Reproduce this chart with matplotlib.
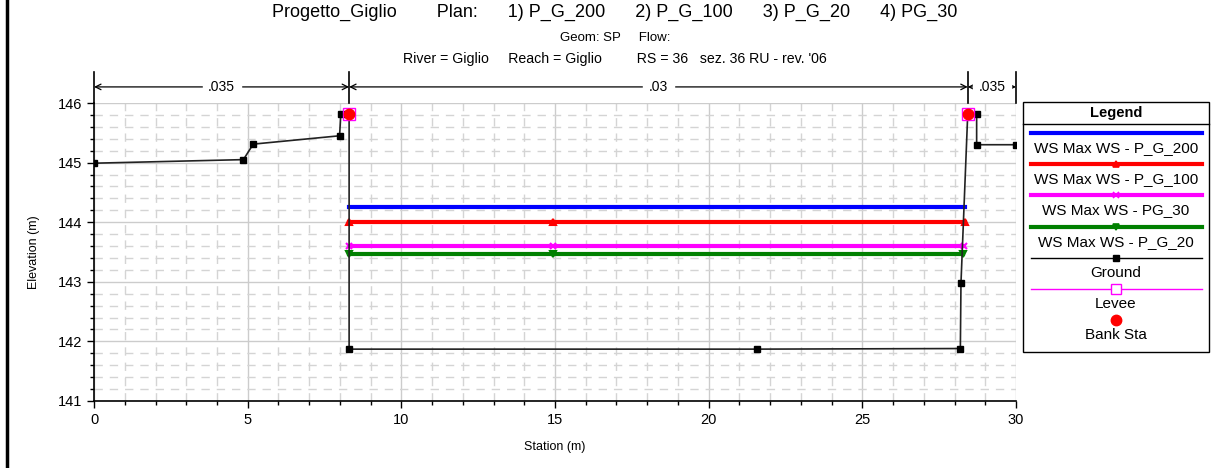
import matplotlib.pyplot as plt
from matplotlib.ticker import MultipleLocator
from matplotlib.lines import Line2D
from matplotlib.patches import Rectangle

plt.rcParams['font.family'] = ['Liberation Sans', 'DejaVu Sans']

# Ground profile
ground_x = [0.0, 4.86, 5.18, 7.99, 8.03, 8.3, 8.3, 21.57, 28.19, 28.21, 28.43, 28.72, 28.72, 30.0]
ground_y = [144.99, 145.05, 145.31, 145.45, 145.82, 145.82, 141.87, 141.87, 141.88, 142.98, 145.82, 145.82, 145.30, 145.30]
ground_mark_x = [0.0, 4.86, 5.18, 7.99, 8.03, 8.3, 21.57, 28.19, 28.21, 28.72, 28.72, 30.0]
ground_mark_y = [144.99, 145.05, 145.31, 145.45, 145.82, 141.87, 141.87, 141.88, 142.98, 145.82, 145.30, 145.30]

# Water surfaces
ws_names = ['WS Max WS - P_G_200', 'WS Max WS - P_G_100', 'WS Max WS - PG_30', 'WS Max WS - P_G_20']
ws_elev = [144.26, 144.00, 143.60, 143.47]
ws_left = [8.3, 8.3, 8.3, 8.3]
ws_mid = [14.95, 14.95, 14.95, 14.95]
ws_right = [28.35, 28.33, 28.30, 28.29]
ws_colors = ['#0000ff', '#ff0000', '#ff00ff', '#008000']
ws_markers = ['', '^', 'x', 'v']

# Bank stations / levees
bank_x = [8.3, 28.43]
bank_y = [145.82, 145.82]

# Manning's n
n_breaks = [0, 8.3, 28.43, 30]
n_values = ['.035', '.03', '.035']

fig = plt.figure(figsize=(12.15, 4.68), dpi=100)
ax = fig.add_axes([0.0774, 0.1432, 0.7588, 0.6367])

for name, y, xl, xm, xr, c, m in zip(ws_names, ws_elev, ws_left, ws_mid, ws_right, ws_colors, ws_markers):
    ax.plot([xl, xm, xr], [y, y, y], color=c, lw=3.0, marker=m if m else None,
            markersize=5, mew=1.5, zorder=4)

ax.plot(ground_x, ground_y, color='#222222', lw=1.2, zorder=5)
ax.plot(ground_mark_x, ground_mark_y, ls='none', marker='s', color='black', markersize=5, zorder=6)
ax.plot(bank_x, bank_y, ls='none', marker='s', markersize=8, mfc='none', mec='#ff00ff', mew=1, zorder=7)
ax.plot(bank_x, bank_y, ls='none', marker='o', markersize=7.5, color='#ff0000', zorder=8)

ax.set_xlim(0, 30)
ax.set_ylim(141, 146)
ax.xaxis.set_major_locator(MultipleLocator(5))
ax.xaxis.set_minor_locator(MultipleLocator(1))
ax.yaxis.set_major_locator(MultipleLocator(1))
ax.yaxis.set_minor_locator(MultipleLocator(0.2))
ax.grid(which='major', color='#cccccc', lw=1, zorder=0)
ax.grid(which='minor', color='#d4d4d4', lw=1, ls=(0, (6, 5)), zorder=0)
for s in ['top', 'right']:
    ax.spines[s].set_visible(False)
for s in ['left', 'bottom']:
    ax.spines[s].set_linewidth(1.2)
ax.tick_params(which='major', length=5, width=1, labelsize=10.5, direction='out')
ax.tick_params(which='minor', length=3, width=1, direction='out')
ax.set_xlabel('Station (m)', fontsize=9, labelpad=10)
ax.set_ylabel('Elevation (m)', fontsize=9, labelpad=13)

# Manning's n annotation above plot
ytop = 146.0
yarr = 146.27
for xb in n_breaks:
    ax.plot([xb, xb], [ytop, 146.52], color='black', lw=1.2, clip_on=False)
for i, val in enumerate(n_values):
    x0, x1 = n_breaks[i], n_breaks[i + 1]
    ax.annotate('', xy=(x0, yarr), xytext=(x1, yarr),
                arrowprops=dict(arrowstyle='<->', color='black', lw=0.9,
                                shrinkA=0, shrinkB=0), annotation_clip=False)
    ax.text((x0 + x1) / 2, yarr, val, ha='center', va='center', fontsize=10,
            backgroundcolor='white', clip_on=False)

# Titles
fig.text(0.506, 0.974, 'Progetto_Giglio        Plan:      1) P_G_200      2) P_G_100      3) P_G_20      4) PG_30',
         ha='center', va='center', fontsize=13)
fig.text(0.506, 0.918, 'Geom: SP     Flow:', ha='center', va='center', fontsize=9.5)
fig.text(0.506, 0.874, "River = Giglio     Reach = Giglio         RS = 36   sez. 36 RU - rev. '06",
         ha='center', va='center', fontsize=10.2)

# Left border line
fig.add_artist(Line2D([0.0055, 0.0055], [0, 1], color='black', lw=2.5, transform=fig.transFigure))

# Legend box
lx0, lx1 = 1023 / 1215, 1209 / 1215
ly_top, ly_bot = 1 - 102 / 468, 1 - 352 / 468
fig.add_artist(Rectangle((lx0, ly_bot), lx1 - lx0, ly_top - ly_bot, transform=fig.transFigure,
                         fill=False, ec='black', lw=1))
fig.add_artist(Line2D([lx0, lx1], [1 - 124 / 468] * 2, color='black', lw=1, transform=fig.transFigure))
fig.text((lx0 + lx1) / 2, 1 - 113 / 468, 'Legend', ha='center', va='center', fontsize=10.5, fontweight='bold')

lg_names = ws_names + ['Ground', 'Levee', 'Bank Sta']
lg_colors = ws_colors + ['black', '#ff00ff', '#ff0000']
lg_markers = ws_markers + ['s', 's', 'o']
lg_lw = [3.0, 3.0, 3.0, 3.0, 1.0, 1.0, 0]
sx0, sx1 = 1031 / 1215, 1202 / 1215
xm = (lx0 + lx1) / 2
for i, (nm, c, m, lw) in enumerate(zip(lg_names, lg_colors, lg_markers, lg_lw)):
    yl = 1 - (133 + i * 31.2) / 468
    yt = 1 - (148 + i * 31.2) / 468
    if lw > 0:
        fig.add_artist(Line2D([sx0, sx1], [yl, yl], color=c, lw=lw, transform=fig.transFigure))
    if m:
        if nm == 'Levee':
            fig.add_artist(Line2D([xm], [yl], marker='s', markersize=7, mfc='white', mec=c, mew=1,
                                  transform=fig.transFigure))
        elif nm == 'Bank Sta':
            fig.add_artist(Line2D([xm], [yl], marker='o', markersize=7.5, color=c, transform=fig.transFigure))
        elif nm == 'Ground':
            fig.add_artist(Line2D([xm], [yl], marker='s', markersize=4.5, color=c, transform=fig.transFigure))
        else:
            fig.add_artist(Line2D([xm], [yl], marker=m, markersize=4, color=c, mew=1.2,
                                  transform=fig.transFigure))
    fig.text(xm, yt, nm, ha='center', va='center', fontsize=11)

fig.savefig('out.png', dpi=100)
